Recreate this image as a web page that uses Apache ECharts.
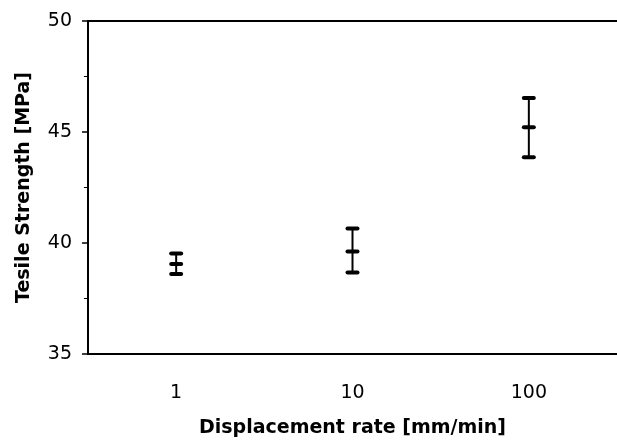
<!DOCTYPE html>
<html>
<head>
<meta charset="utf-8">
<script src="https://cdn.jsdelivr.net/npm/echarts@6/dist/echarts.min.js"></script>
<style>html,body{margin:0;padding:0;background:#fff}#c{width:617px;height:443px}</style>
</head>
<body>
<div id="c"></div>
<script>
var categories = ['1', '10', '100'];
var means = [39.05, 39.62, 45.21];
var upper = [39.53, 40.65, 46.53];
var lower = [38.60, 38.67, 43.86];
var yTicks = [35, 40, 45, 50];

var FONT = '"DejaVu Sans", "Liberation Sans", Arial, sans-serif';
var data = categories.map(function (c, i) { return [i, means[i], upper[i], lower[i]]; });

var chart = echarts.init(document.getElementById('c'), null, {renderer: 'canvas'});
chart.setOption({
  animation: false,
  backgroundColor: '#fff',
  grid: {left: 88, top: 21, width: 534, height: 333},
  xAxis: [{
    type: 'category',
    data: categories,
    boundaryGap: true,
    axisLine: {show: true, lineStyle: {color: '#000', width: 2}},
    axisTick: {show: false},
    axisLabel: {color: '#000', fontSize: 19, fontFamily: FONT, margin: 30},
    splitLine: {show: false},
    name: 'Displacement rate [mm/min]',
    nameLocation: 'middle',
    nameGap: 65,
    nameTextStyle: {color: '#000', fontSize: 19, fontWeight: 'bold', fontFamily: FONT}
  }, {
    type: 'category',
    position: 'top',
    data: categories,
    axisLine: {show: true, lineStyle: {color: '#000', width: 2}},
    axisTick: {show: false},
    axisLabel: {show: false}
  }],
  yAxis: {
    type: 'value',
    min: yTicks[0],
    max: yTicks[yTicks.length - 1],
    interval: 5,
    axisLine: {show: true, lineStyle: {color: '#000', width: 2}},
    axisTick: {show: true, length: 6, lineStyle: {color: '#000', width: 1.5}},
    minorTick: {show: true, splitNumber: 2, length: 4, lineStyle: {color: '#000', width: 1}},
    axisLabel: {color: '#000', fontSize: 19, fontFamily: FONT, margin: 16},
    splitLine: {show: false},
    name: 'Tesile Strength [MPa]',
    nameLocation: 'middle',
    nameGap: 54,
    nameTextStyle: {color: '#000', fontSize: 19, fontWeight: 'bold', fontFamily: FONT}
  },
  series: [{
    type: 'custom',
    data: data,
    encode: {x: 0, y: [1, 2, 3]},
    renderItem: function (params, api) {
      var x = api.value(0);
      var pm = api.coord([x, api.value(1)]);
      var pu = api.coord([x, api.value(2)]);
      var pl = api.coord([x, api.value(3)]);
      var cw = 14, ch = 4;
      function cap(p) {
        return {type: 'rect', shape: {x: p[0] - cw / 2, y: p[1] - ch / 2, width: cw, height: ch, r: 2}, style: {fill: '#000'}};
      }
      return {
        type: 'group',
        children: [
          {type: 'line', shape: {x1: pm[0], y1: pu[1], x2: pm[0], y2: pl[1]}, style: {stroke: '#000', lineWidth: 2}},
          cap(pu), cap(pm), cap(pl)
        ]
      };
    }
  }]
});
</script>
</body>
</html>
